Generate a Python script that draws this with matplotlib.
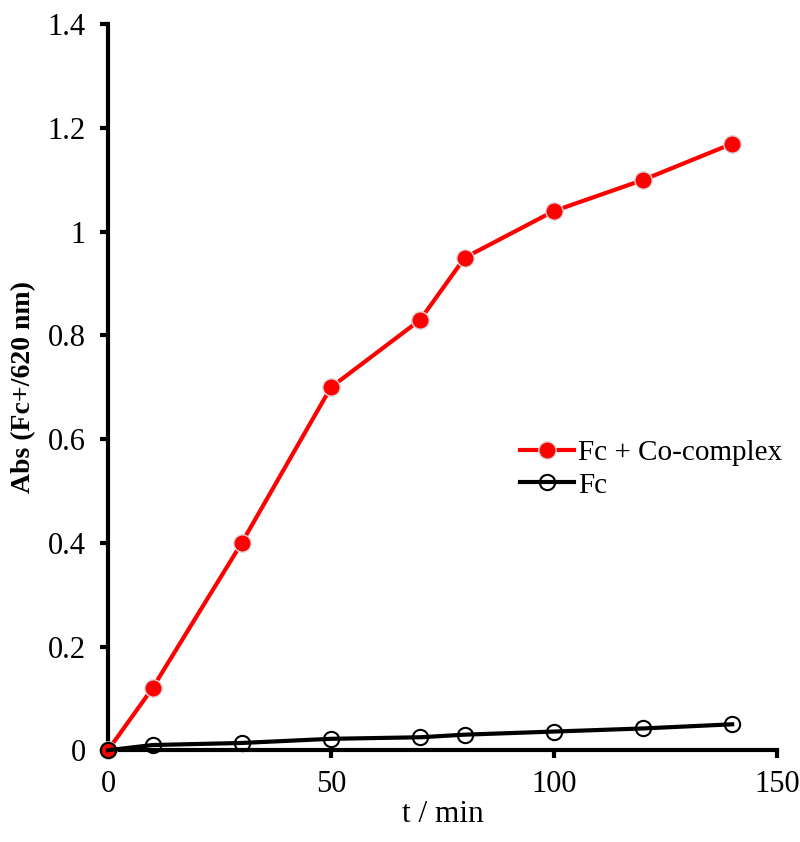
import matplotlib.pyplot as plt

# tiempo (min) y absorbancia
t_min = [0, 10, 30, 50, 70, 80, 100, 120, 140]
abs_co = [0, 0.12, 0.40, 0.70, 0.83, 0.95, 1.04, 1.10, 1.17]
abs_fc = [0, 0.010, 0.014, 0.022, 0.025, 0.030, 0.036, 0.042, 0.050]

x_ticks = [0, 50, 100, 150]
y_ticks = [0, 0.2, 0.4, 0.6, 0.8, 1.0, 1.2, 1.4]
y_tick_labels = ['0', '0.2', '0.4', '0.6', '0.8', '1', '1.2', '1.4']

plt.rcParams['font.family'] = ['Liberation Serif', 'DejaVu Serif']

fig = plt.figure(figsize=(8, 8.42), dpi=100)
ax = fig.add_axes([0.135, 0.109, 0.836, 0.862])

ax.plot(t_min, abs_co, color='#ff0000', lw=3, marker='o', ms=12.5,
        markerfacecolor='#ff0000', markeredgecolor='#d9d9d9', markeredgewidth=1,
        label='Fc + Co-complex', zorder=3, clip_on=False)
ax.plot(t_min, abs_fc, color='black', lw=3, marker='o', ms=11,
        markerfacecolor='none', markeredgecolor='black', markeredgewidth=1.5,
        label='Fc', zorder=4, clip_on=False)

ax.set_xlim(0, 150)
ax.set_ylim(0, 1.4)
ax.set_xticks(x_ticks)
ax.set_yticks(y_ticks)
ax.set_yticklabels(y_tick_labels)
ax.tick_params(direction='out', length=6, width=3, labelsize=22, pad=8)
ax.tick_params(axis='y', pad=10)

for s in ['top', 'right']:
    ax.spines[s].set_visible(False)
for s in ['left', 'bottom']:
    ax.spines[s].set_linewidth(3)

ax.set_xlabel('t / min', fontsize=22.5, labelpad=1)
ax.set_ylabel('Abs (Fc+/620 nm)', fontsize=20, fontweight='bold', labelpad=8)

ax.legend(loc='center left', bbox_to_anchor=(0.616, 0.387), frameon=False,
          fontsize=21, handlelength=1.85, handletextpad=0.15, labelspacing=0.2,
          borderpad=0, borderaxespad=0)

plt.savefig('out.png')
plt.close()
